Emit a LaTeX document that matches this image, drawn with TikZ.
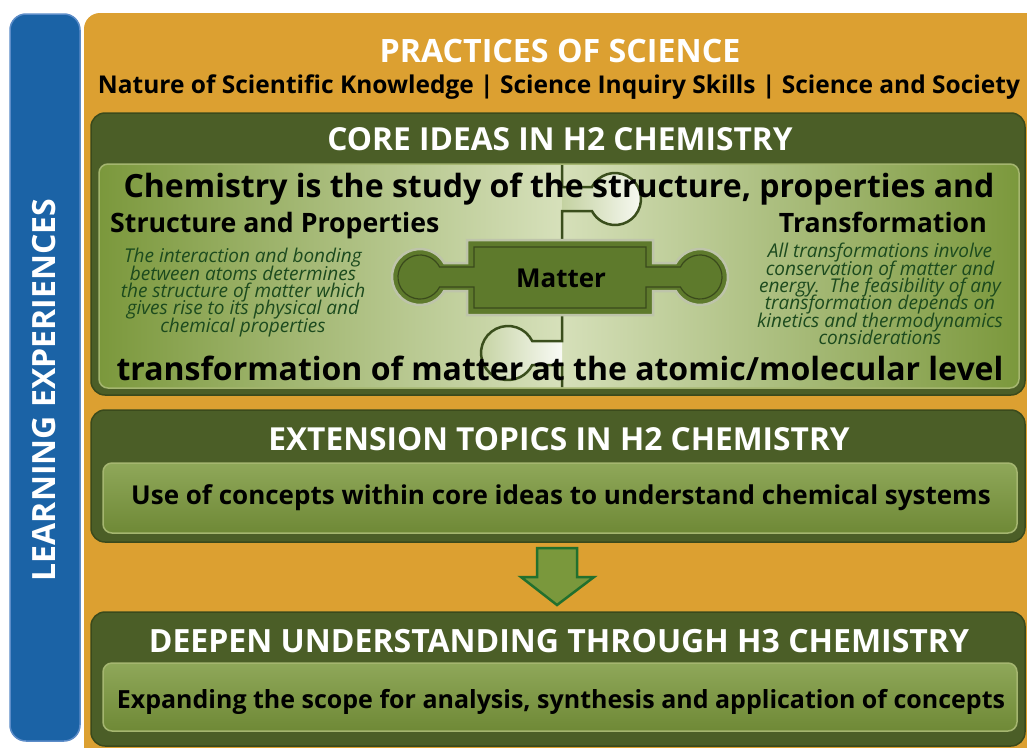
\documentclass[tikz,border=0pt]{standalone}
\usepackage{fontspec}
\setmainfont{Open Sans}
\newcommand{\tightlines}{\lineskiplimit=-30pt\relax\lineskip=0pt\relax}
\definecolor{orangeC}{RGB}{220,160,49}
\definecolor{blueC}{RGB}{27,99,166}
\definecolor{blueHi}{RGB}{92,140,200}
\definecolor{darkG}{RGB}{75,94,39}
\definecolor{darkEdge}{RGB}{58,74,28}
\definecolor{midG}{RGB}{123,152,60}
\definecolor{lightG}{RGB}{214,224,186}
\definecolor{innerEdge}{RGB}{165,182,112}
\definecolor{pieceG}{RGB}{94,122,44}
\definecolor{pieceEdge}{RGB}{190,196,170}
\definecolor{seamG}{RGB}{58,78,28}
\definecolor{txtG}{RGB}{28,74,30}
\definecolor{arrowG}{RGB}{122,152,60}
\definecolor{arrowE}{RGB}{34,112,46}
\tikzset{
  hdr/.style={font=\bfseries\fontsize{31.7}{31.7}\selectfont, text=white, inner sep=0pt, anchor=base},
  bigline/.style={font=\bfseries\fontsize{32}{32}\selectfont, text=black, inner sep=0pt, anchor=base},
  subhdr/.style={font=\bfseries\fontsize{26.7}{26.7}\selectfont, text=black, inner sep=0pt, anchor=base},
  boxtext/.style={font=\bfseries\fontsize{26}{26}\selectfont, text=black, inner sep=0pt, anchor=base},
  smallital/.style={font={\itshape\fontsize{19}{17.4}\selectfont\tightlines}, text=txtG, inner sep=0pt, align=center, anchor=north},
  darkbox/.style={fill=darkG, draw=darkEdge, line width=1.5pt, rounded corners=14pt},
  innerbox/.style={draw=innerEdge, line width=1.5pt, rounded corners=9pt},
  seam/.style={draw=seamG, line width=2.5pt},
  knobfill/.style={left color=lightG!80!midG, right color=white!85!lightG}
}
\begin{document}
\begin{tikzpicture}[x=1pt,y=-1pt]
\useasboundingbox (0,0) rectangle (1027,747);
\fill[white] (0,0) rectangle (1027,747);

% left blue bar
\draw[fill=blueC, draw=blueHi, line width=1.5pt, rounded corners=16pt] (10,14) rectangle (80,741);
\node[font=\bfseries\fontsize{32}{32}\selectfont, text=white, rotate=90, inner sep=0pt] (learn) at (44.5,390) {LEARNING EXPERIENCES};

% orange panel
\fill[orangeC, rounded corners=16pt] (84,13) rectangle (1045,770);
\node[hdr, font=\bfseries\fontsize{32.2}{32.2}\selectfont] (prac) at (560,62) {PRACTICES OF SCIENCE};
\node[boxtext, font=\bfseries\fontsize{24.5}{24.5}\selectfont] (sub) at (559,93) {Nature of Scientific Knowledge | Science Inquiry Skills | Science and Society};

% core ideas box
\path[darkbox] (91,113) rectangle (1025,395);
\node[hdr] (core) at (560,150) {CORE IDEAS IN H2 CHEMISTRY};
\shade[rounded corners=9pt, left color=midG, right color=midG, middle color=lightG] (99,164) rectangle (1019,388);
\path[innerbox] (99,164) rectangle (1019,388);

% jigsaw seam (top tab, pointing right)
\shade[knobfill] (562,187) -- (591.9,187) arc[start angle=-152.5, end angle=152.5, radius=26] -- (562,211) -- cycle;
\draw[seam] (562,165) -- (562,187) -- (591.9,187) arc[start angle=-152.5, end angle=152.5, radius=26] -- (562,211) -- (562,240);
% jigsaw seam (bottom tab, pointing left)
\shade[knobfill] (562,341) -- (532.2,341) arc[start angle=-26.4, end angle=-333.6, radius=27] -- (562,365) -- cycle;
\draw[seam] (562,315) -- (562,341) -- (532.2,341) arc[start angle=-26.4, end angle=-333.6, radius=27] -- (562,365) -- (562,387);

% Matter puzzle piece
\draw[fill=pieceG, draw=pieceEdge, line width=2.5pt]
  (467,240) -- (653,240) -- (653,263) -- (675.8,263)
  arc[start angle=-150, end angle=150, radius=28] -- (653,291) -- (653,315)
  -- (467,315) -- (467,291) -- (444.2,291)
  arc[start angle=30, end angle=330, radius=28] -- (467,263) -- cycle;
\draw[draw=darkEdge, line width=1.2pt]
  (474,247) -- (646,247) -- (646,267) -- (680.4,267)
  arc[start angle=-153, end angle=153, radius=22] -- (646,287) -- (646,308)
  -- (474,308) -- (474,287) -- (439.6,287)
  arc[start angle=27, end angle=333, radius=22] -- (474,267) -- cycle;
\node[bigline, font=\bfseries\fontsize{26}{26}\selectfont] (matter) at (561,287) {Matter};

% core texts
\node[bigline] (chem1) at (559,197) {Chemistry is the study of the structure, properties and};
\node[subhdr, anchor=base west] (sp) at (110,232) {Structure and Properties};
\node[subhdr, anchor=base east] (tr) at (987,232) {Transformation};
\node[smallital] (spdesc) at (243,248) {The interaction and bonding\\between atoms determines\\the structure of matter which\\gives rise to its physical and\\chemical properties};
\node[smallital] (trdesc) at (880,243) {All transformations involve\\conservation of matter and\\energy.\ \ The feasibility of any\\transformation depends on\\kinetics and thermodynamics\\considerations};
\node[bigline] (chem2) at (560,380) {transformation of matter at the atomic/molecular level};

% extension box
\path[darkbox] (91,410) rectangle (1025,542);
\node[hdr] (ext) at (559,450) {EXTENSION TOPICS IN H2 CHEMISTRY};
\shade[rounded corners=9pt, top color=midG!85!white, bottom color=midG!90!black] (103,463) rectangle (1017,533);
\path[innerbox] (103,463) rectangle (1017,533);
\node[boxtext] (extt) at (561,504) {Use of concepts within core ideas to understand chemical systems};

% arrow
\draw[fill=arrowG, draw=arrowE, line width=2.5pt, line join=miter]
  (537,548) -- (577,548) -- (577,577) -- (594,577) -- (557,605) -- (521,577) -- (537,577) -- cycle;

% deepen box
\path[darkbox] (91,612) rectangle (1025,746);
\node[hdr, font=\bfseries\fontsize{32}{32}\selectfont] (deep) at (559,652) {DEEPEN UNDERSTANDING THROUGH H3 CHEMISTRY};
\shade[rounded corners=9pt, top color=midG!85!white, bottom color=midG!90!black] (103,663) rectangle (1017,731);
\path[innerbox] (103,663) rectangle (1017,731);
\node[boxtext, font=\bfseries\fontsize{25}{25}\selectfont] (deept) at (561,708) {Expanding the scope for analysis, synthesis and application of concepts};
\end{tikzpicture}
\end{document}
